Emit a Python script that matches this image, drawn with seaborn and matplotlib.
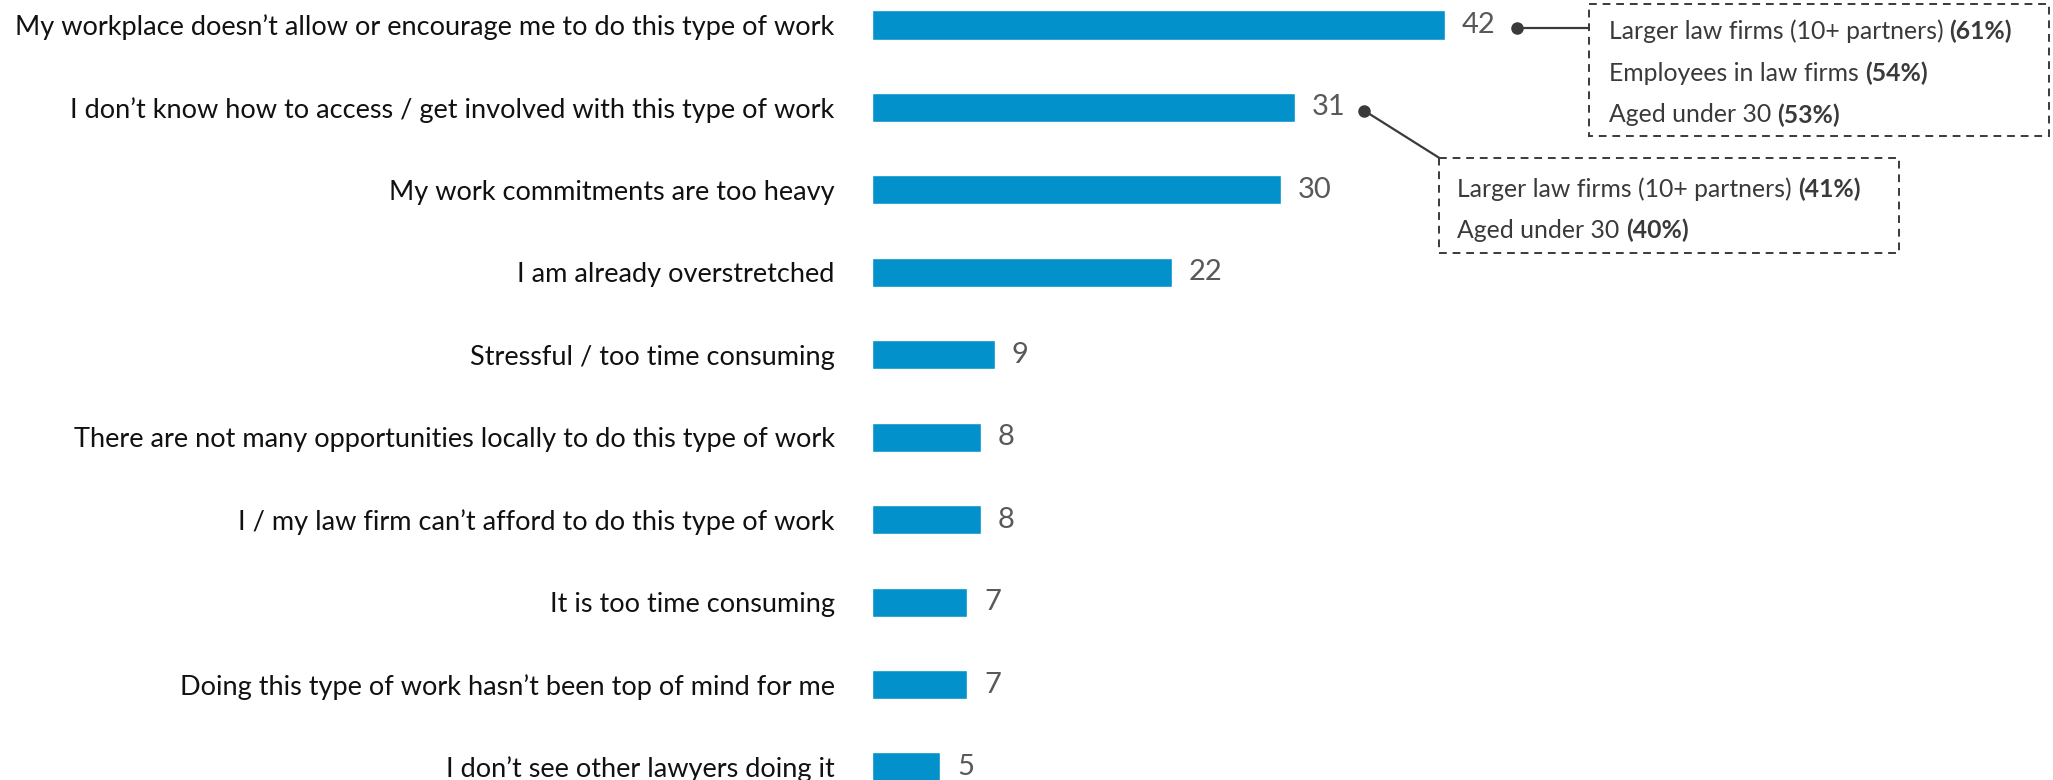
import matplotlib
matplotlib.use("Agg")
import matplotlib.pyplot as plt
import matplotlib.patches as mpatches
import seaborn as sns
import pandas as pd

# Reasons for not doing pro bono / community work (% of respondents)
reasons = [
    "My workplace doesn\u2019t allow or encourage me to do this type of work",
    "I don\u2019t know how to access / get involved with this type of work",
    "My work commitments are too heavy",
    "I am already overstretched",
    "Stressful / too time consuming",
    "There are not many opportunities locally to do this type of work",
    "I / my law firm can\u2019t afford to do this type of work",
    "It is too time consuming",
    "Doing this type of work hasn\u2019t been top of mind for me",
    "I don\u2019t see other lawyers doing it",
]
shares = [42, 31, 30, 22, 9, 8, 8, 7, 7, 5]

# Sub-group breakdowns for the top two reasons
callout_top_groups = ["Larger law firms (10+ partners)", "Employees in law firms", "Aged under 30"]
callout_top_values = ["(61%)", "(54%)", "(53%)"]
callout_second_groups = ["Larger law firms (10+ partners)", "Aged under 30"]
callout_second_values = ["(41%)", "(40%)"]

BAR = "#0291CA"
VALUE_GREY = "#595959"
NOTE_GREY = "#3A3A3A"
FONT = "Lato"

sns.set_theme(style="white")
plt.rcParams["font.family"] = [FONT, "DejaVu Sans"]

df = pd.DataFrame({"reason": reasons, "share": shares})

fig = plt.figure(figsize=(20.53, 7.80), dpi=100)
ax = fig.add_axes([872 / 2053, 0.0, 1 - 872 / 2053, 1.0])

sns.barplot(data=df, y="reason", x="share", orient="h", color=BAR,
            width=0.352, saturation=1, ax=ax)

x_max = (2053 - 872) / 13.64
ax.set_xlim(0, x_max)
ax.set_ylim(9 + 13 / 82.44, -25 / 82.44)

for s in ax.spines.values():
    s.set_visible(False)
ax.set_xticks([])
ax.set_xlabel("")
ax.set_ylabel("")
ax.tick_params(axis="y", length=0, pad=27, labelsize=19.5, labelcolor="#111111")

ax.bar_label(ax.containers[0], fmt="%d", padding=12, fontsize=21,
             color=VALUE_GREY)


def callout(dot_xy, corner_xy, box, lines_y, text_x, groups, values):
    x0, y0, x1, y1 = box
    ax.plot([dot_xy[0], corner_xy[0]], [dot_xy[1], corner_xy[1]],
            color=NOTE_GREY, lw=1.6, clip_on=False, zorder=3)
    ax.plot([dot_xy[0]], [dot_xy[1]], marker="o", ms=8, color=NOTE_GREY,
            clip_on=False, zorder=4)
    rect = mpatches.Rectangle((x0, y0), x1 - x0, y1 - y0, fill=False,
                              edgecolor=NOTE_GREY, lw=1.4,
                              linestyle=(0, (4, 3)), clip_on=False, zorder=3)
    ax.add_patch(rect)
    for g, v, y in zip(groups, values, lines_y):
        t = ax.text(text_x, y, g + " ", fontsize=17.8, color=NOTE_GREY,
                    va="center_baseline", ha="left", clip_on=False)
        ax.annotate(v, xy=(1, y), xycoords=(t, "data"), fontsize=17.8,
                    fontweight="bold", color=NOTE_GREY,
                    va="center_baseline", ha="left", annotation_clip=False)


callout(dot_xy=(shares[0] + 5.3, 0.04), corner_xy=(52.6, 0.04),
        box=(52.6, -0.255, 86.3, 1.346), lines_y=[0.05, 0.558, 1.067],
        text_x=54.0, groups=callout_top_groups, values=callout_top_values)
callout(dot_xy=(shares[1] + 5.1, 1.04), corner_xy=(41.6, 1.613),
        box=(41.6, 1.613, 75.3, 2.766), lines_y=[1.965, 2.47],
        text_x=42.9, groups=callout_second_groups, values=callout_second_values)

fig.savefig("out.png", dpi=100, facecolor="white")
